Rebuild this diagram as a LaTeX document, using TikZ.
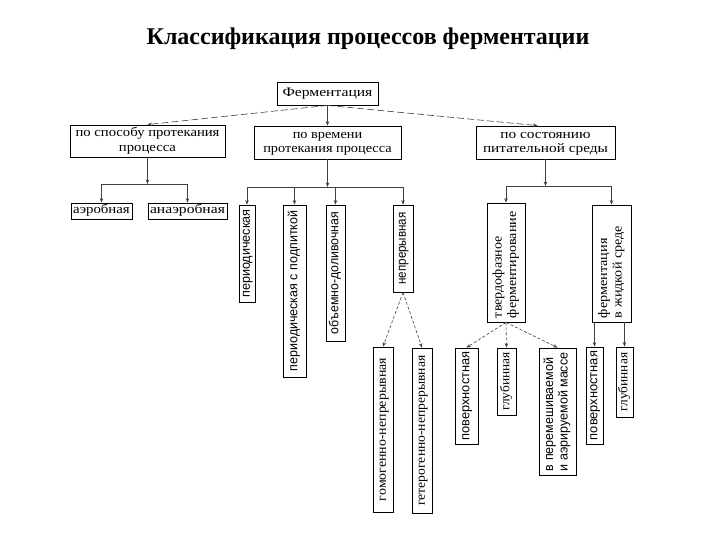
\documentclass[tikz,border=0pt]{standalone}
\usepackage{fontspec}
\setmainfont{Liberation Serif}
\newfontfamily\sansf{Liberation Sans}
\usepackage{graphicx}
\usetikzlibrary{arrows.meta}
\newcommand\hx[2]{\scalebox{#1}[1]{\begin{tabular}{@{}c@{}}#2\end{tabular}}}
\newcommand\vx[4]{\rotatebox{90}{\makebox[#2][#3]{\scalebox{#1}[1]{\begin{tabular}{@{}l@{}}#4\end{tabular}}}}}
\tikzset{
  box/.style={draw=black, line width=0.8pt, inner sep=0pt, fill=white, font=\fontsize{13}{14.5}\selectfont},
  conn/.style={draw=black!75, line width=0.6pt},
  arr/.style={conn, -{Stealth[length=4.5pt,width=3.5pt]}},
  darr/.style={arr, dash pattern=on 3pt off 2pt},
  tdarr/.style={arr, dash pattern=on 7pt off 3pt},
}
\begin{document}
\begin{tikzpicture}[x=1pt,y=1pt]
\fill[white] (0,0) rectangle (720,-540);
\useasboundingbox (0,0) rectangle (720,-540);
\node[font=\bfseries\fontsize{24}{28}\selectfont] (title) at (368,-39) {Классификация процессов ферментации};
% top
\node[box, minimum width=101, minimum height=23] (fer) at (327.5,-93.5) {\hx{1.2}{Ферментация}};
\node[box, minimum width=155, minimum height=32] (L) at (147.5,-141) {\hx{1.13}{по способу протекания\\процесса}};
\node[box, minimum width=147, minimum height=33] (M) at (327.5,-142.5) {\hx{1.1}{по времени\\протекания процесса}};
\node[box, minimum width=139, minimum height=33] (R) at (545.5,-142.5) {\hx{1.18}{по состоянию\\питательной среды}};
% left
\node[box, minimum width=61, minimum height=16] (aero) at (101.5,-211) {\hx{1.14}{аэробная}};
\node[box, minimum width=79, minimum height=16] (anaero) at (187.5,-211) {\hx{1.2}{анаэробная}};
% middle
\node[box, minimum width=16, minimum height=97] (period) at (247,-253.5) {\vx{0.97}{90pt}{c}{\sansf периодическая}};
\node[box, minimum width=23, minimum height=172] (podpit) at (294.5,-291) {\vx{0.96}{164pt}{c}{\sansf периодическая с подпиткой}};
\node[box, minimum width=19, minimum height=136] (obem) at (335.5,-273) {\vx{0.95}{124pt}{c}{\sansf объемно-доливочная}};
\node[box, minimum width=20, minimum height=87] (nepr) at (403,-248.5) {\vx{0.89}{76pt}{c}{\sansf непрерывная}};
\node[box, minimum width=20, minimum height=165] (gomo) at (383,-429.5) {\vx{1.07}{150pt}{c}{гомогенно-непрерывная}};
\node[box, minimum width=20, minimum height=165] (getero) at (422,-430.5) {\vx{1.05}{156pt}{c}{гетерогенно-непрерывная}};
% right
\node[box, minimum width=38, minimum height=119] (tverd) at (506,-262.5) {\vx{1.08}{111pt}{l}{твердофазное\\ферментирование}};
\node[box, minimum width=39, minimum height=117] (zhid) at (611.5,-263.5) {\vx{1.09}{109pt}{l}{ферментация\\в жидкой среде}};
\node[box, minimum width=23, minimum height=96] (pov1) at (466.5,-396) {\vx{0.99}{90pt}{c}{\sansf поверхностная}};
\node[box, minimum width=19, minimum height=67] (glub1) at (506.5,-381.5) {\vx{1.03}{62pt}{c}{глубинная}};
\node[box, minimum width=37, minimum height=127] (mass) at (557.5,-411.5) {\vx{0.96}{119pt}{l}{\sansf в перемешиваемой\\\sansf и аэрируемой массе}};
\node[box, minimum width=17, minimum height=97] (pov2) at (594.5,-395.5) {\vx{0.99}{90pt}{c}{\sansf поверхностная}};
\node[box, minimum width=17, minimum height=70] (glub2) at (624.5,-382) {\vx{1.03}{62pt}{c}{глубинная}};
% connectors top
\draw[arr] (fer.south) -- (M.north);
\draw[tdarr] (fer.south) -- (L.north);
\draw[tdarr] (fer.south) -- ([xshift=-8pt]R.north);
% left branch
\coordinate (Lh) at (147.5,-184);
\draw[arr] (L.south) -- (Lh);
\draw[conn] (aero.north |- Lh) -- (anaero.north |- Lh);
\draw[arr] (aero.north |- Lh) -- (aero.north);
\draw[arr] (anaero.north |- Lh) -- (anaero.north);
% middle branch
\coordinate (Mh) at (327.5,-187);
\draw[arr] (M.south) -- (Mh);
\draw[conn] (period.north |- Mh) -- (nepr.north |- Mh);
\draw[arr] (period.north |- Mh) -- (period.north);
\draw[arr] (podpit.north |- Mh) -- (podpit.north);
\draw[arr] (obem.north |- Mh) -- (obem.north);
\draw[arr] (nepr.north |- Mh) -- (nepr.north);
\draw[darr] (nepr.south) -- (gomo.north);
\draw[darr] (nepr.south) -- (getero.north);
% right branch
\coordinate (Rh) at (545.5,-186);
\draw[arr] (R.south) -- (Rh);
\draw[conn] (tverd.north |- Rh) -- (zhid.north |- Rh);
\draw[arr] (tverd.north |- Rh) -- (tverd.north);
\draw[arr] (zhid.north |- Rh) -- (zhid.north);
\draw[darr] (tverd.south) -- (pov1.north);
\draw[darr] (tverd.south) -- (glub1.north);
\draw[darr] (tverd.south) -- (mass.north);
\draw[arr] (pov2.north |- zhid.south) -- (pov2.north);
\draw[arr] (glub2.north |- zhid.south) -- (glub2.north);
\end{tikzpicture}
\end{document}
